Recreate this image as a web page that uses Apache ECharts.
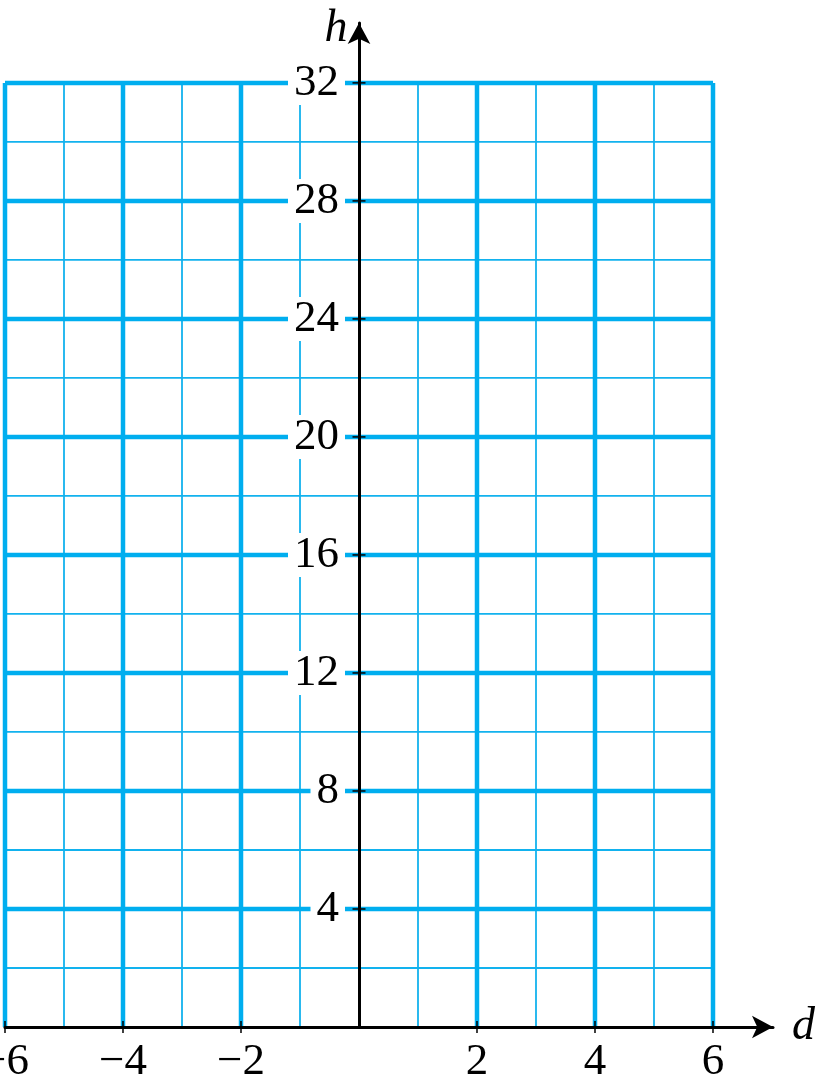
<!DOCTYPE html>
<html>
<head>
<meta charset="utf-8">
<style>
html,body{margin:0;padding:0;background:#fff;}
#chart{width:821px;height:1079px;}
</style>
<script src="https://cdn.jsdelivr.net/npm/echarts@6/dist/echarts.min.js"></script>
</head>
<body>
<div id="chart"></div>
<script>
// Data
var xRange = [-6, 6];
var yRange = [0, 32];
var xMajor = [-6, -4, -2, 2, 4, 6];
var xMinor = [-5, -3, -1, 1, 3, 5];
var yMajor = [4, 8, 12, 16, 20, 24, 28, 32];
var yMinor = [2, 6, 10, 14, 18, 22, 26, 30];
var xTickLabels = [-6, -4, -2, 2, 4, 6];
var yTickLabels = [4, 8, 12, 16, 20, 24, 28, 32];
var xName = 'd';
var yName = 'h';

var BLUE = '#00AEEF';
var BLUE_MINOR = '#12B2EE';
var FONT = 'Liberation Serif';
var GRID_LEFT = 5, GRID_RIGHT = 48;
var X_MIN = -6, X_MAX = 7.017;
var CHART_W = 821;

var gridLines = [];
xMinor.forEach(function (x) { gridLines.push([x, yRange[0], x, yRange[1], 0]); });
yMinor.forEach(function (y) { gridLines.push([xRange[0], y, xRange[1], y, 0]); });
xMajor.forEach(function (x) { gridLines.push([x, yRange[0], x, yRange[1], 1]); });
yMajor.forEach(function (y) { gridLines.push([xRange[0], y, xRange[1], y, 1]); });

var ticks = [];
xTickLabels.forEach(function (v) { ticks.push([v, 0, 0]); });
yTickLabels.forEach(function (v) { ticks.push([0, v, 1]); });

// y axis offset so that it sits at x = 0 (layout only)
var plotW = CHART_W - GRID_LEFT - GRID_RIGHT;
var yAxisOffset = -((0 - X_MIN) / (X_MAX - X_MIN) * plotW);

var chart = echarts.init(document.getElementById('chart'), null, {renderer: 'canvas'});
chart.setOption({
  animation: false,
  backgroundColor: '#fff',
  grid: {left: GRID_LEFT, right: GRID_RIGHT, top: 23, bottom: 52, containLabel: false, outerBoundsMode: 'none'},
  xAxis: {
    type: 'value', min: X_MIN, max: X_MAX, interval: 2, zlevel: 1, z: 3,
    name: xName, nameLocation: 'end', nameGap: 19,
    nameTextStyle: {fontFamily: FONT, fontStyle: 'italic', fontSize: 46, color: '#000'},
    axisLine: {onZero: true, symbol: ['none', 'arrow'], symbolSize: [17, 21],
      lineStyle: {color: '#000', width: 3}},
    axisTick: {show: false},
    splitLine: {show: false},
    axisLabel: {
      customValues: xTickLabels, margin: 13, hideOverlap: false,
      fontFamily: FONT, fontSize: 45, color: '#000',
      formatter: function (v) { return String(v).replace('-', '\u2212'); }
    }
  },
  yAxis: {
    type: 'value', min: 0, max: 34.03, interval: 4, zlevel: 1, z: 3,
    position: 'left', offset: yAxisOffset,
    name: yName, nameLocation: 'end', nameGap: -29,
    nameTextStyle: {fontFamily: FONT, fontStyle: 'italic', fontSize: 46, color: '#000', padding: [0, 46, 0, 0]},
    axisLine: {onZero: false, symbol: ['none', 'arrow'], symbolSize: [17, 21],
      lineStyle: {color: '#000', width: 3}},
    axisTick: {show: false},
    splitLine: {show: false},
    axisLabel: {
      customValues: yTickLabels, margin: 14, hideOverlap: false,
      fontFamily: FONT, fontSize: 45, color: '#000',
      backgroundColor: '#fff', padding: [4, 6], lineHeight: 36
    }
  },
  series: [
    {
      type: 'custom', z: 1, silent: true, clip: false,
      data: gridLines,
      encode: {x: [0, 2], y: [1, 3]},
      renderItem: function (params, api) {
        var p1 = api.coord([api.value(0), api.value(1)]);
        var p2 = api.coord([api.value(2), api.value(3)]);
        var major = api.value(4) === 1;
        return {type: 'line', shape: {x1: p1[0], y1: p1[1], x2: p2[0], y2: p2[1]},
          style: {stroke: major ? BLUE : BLUE_MINOR, lineWidth: major ? 4.5 : 1.8}};
      }
    },
    {
      type: 'custom', zlevel: 1, z: 5, silent: true, clip: false,
      data: ticks,
      encode: {x: 0, y: 1},
      renderItem: function (params, api) {
        var p = api.coord([api.value(0), api.value(1)]);
        var isY = api.value(2) === 1;
        var shape = isY ? {x1: p[0] - 6.5, y1: p[1], x2: p[0] + 6.5, y2: p[1]}
                        : {x1: p[0], y1: p[1] - 6, x2: p[0], y2: p[1] + 6};
        return {type: 'line', shape: shape, style: {stroke: '#000', lineWidth: 1.5}};
      }
    }
  ]
});
</script>
</body>
</html>
